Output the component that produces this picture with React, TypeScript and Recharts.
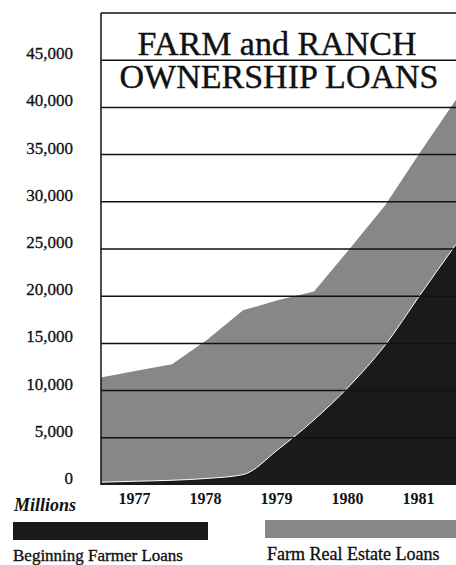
import { Area, AreaChart, ReferenceLine, XAxis, YAxis } from "recharts";

// half-year points, millions of dollars
const PERIODS = [1976.5, 1977, 1977.5, 1978, 1978.5, 1979, 1979.5, 1980, 1980.5, 1981, 1981.5];
const BEGINNING_FARMER = [300, 400, 500, 700, 1100, 3800, 6900, 10500, 14800, 20200, 25500];
const FARM_REAL_ESTATE = [11400, 12100, 12800, 15400, 18500, 19600, 20500, 25000, 29600, 35300, 40800];

const YEAR_TICKS = [1977, 1978, 1979, 1980, 1981];
const VALUE_TICKS = [0, 5000, 10000, 15000, 20000, 25000, 30000, 35000, 40000, 45000];
const RULES = [5000, 10000, 15000, 20000, 25000, 30000, 35000, 40000, 45000, 50000];

const SERIES = [
  { key: "beginning", name: "Beginning Farmer Loans", color: "#1a1a1a" },
  { key: "realEstate", name: "Farm Real Estate Loans", color: "#878787" },
];

const data = PERIODS.map((p, i) => ({
  period: p,
  beginning: BEGINNING_FARMER[i],
  realEstate: FARM_REAL_ESTATE[i],
}));

const SERIF = "'Liberation Serif', 'Times New Roman', serif";
const INK = "#111";

function ValueTick({ x, y, payload }: any) {
  return (
    <text x={x} y={y - 1} textAnchor="end" fontFamily={SERIF} fontSize={17} fill={INK} stroke={INK} strokeWidth={0.3}>
      {payload.value.toLocaleString("en-US")}
    </text>
  );
}

function YearTick({ x, y, payload }: any) {
  return (
    <text x={x - 2} y={y + 19} textAnchor="middle" fontFamily={SERIF} fontSize={16} fontWeight="bold" fill={INK}>
      {payload.value}
    </text>
  );
}

function Legend() {
  const [beginning, realEstate] = SERIES;
  return (
    <div style={{ position: "absolute", left: 0, top: 0, width: 456, height: 565, pointerEvents: "none" }}>
      <div style={{ position: "absolute", left: 13, top: 522, width: 195, height: 18, background: beginning.color }} />
      <div style={{ position: "absolute", left: 265, top: 520, width: 200, height: 18, background: realEstate.color }} />
      <svg width={456} height={565} style={{ position: "absolute", left: 0, top: 0 }}>
        <text x={13} y={561} fontFamily={SERIF} fontSize={17} fill={INK} stroke={INK} strokeWidth={0.35}>
          {beginning.name}
        </text>
        <text x={267} y={560} fontFamily={SERIF} fontSize={18} fill={INK} stroke={INK} strokeWidth={0.35}>
          {realEstate.name}
        </text>
      </svg>
    </div>
  );
}

function Title() {
  return (
    <svg width={456} height={100} style={{ position: "absolute", left: 0, top: 0, pointerEvents: "none" }}>
      <text x={277} y={55} textAnchor="middle" fontFamily={SERIF} fontSize={34} fill={INK} stroke={INK} strokeWidth={0.4}>
        FARM and RANCH
      </text>
      <text x={279} y={88} textAnchor="middle" fontFamily={SERIF} fontSize={34} fill={INK} stroke={INK} strokeWidth={0.4}>
        OWNERSHIP LOANS
      </text>
    </svg>
  );
}

export default function App() {
  return (
    <div
      style={{
        position: "absolute",
        left: 0,
        top: 0,
        width: 456,
        height: 565,
        overflow: "hidden",
        background: "#fff",
      }}
    >
      <AreaChart width={456} height={520} data={data} margin={{ top: 13, right: 0, left: 0, bottom: 5 }}>
        <XAxis
          dataKey="period"
          type="number"
          domain={[1976.5, 1981.5]}
          ticks={YEAR_TICKS}
          axisLine={false}
          tickLine={false}
          tickSize={0}
          tickMargin={0}
          height={30}
          tick={<YearTick />}
          label={{
            value: "Millions",
            position: "left",
            offset: 25,
            dy: 5,
            style: { fontFamily: SERIF, fontSize: 18, fontStyle: "italic", fontWeight: "bold", fill: INK },
          }}
        />
        <YAxis
          domain={[0, 50000]}
          ticks={VALUE_TICKS}
          width={101}
          axisLine={{ stroke: INK, strokeWidth: 1.5 }}
          tickLine={false}
          tickSize={0}
          tickMargin={28}
          tick={<ValueTick />}
        />
        <Area
          type="linear"
          dataKey="realEstate"
          name={SERIES[1].name}
          stroke="none"
          fill={SERIES[1].color}
          fillOpacity={1}
          isAnimationActive={false}
        />
        <Area
          type="monotone"
          dataKey="beginning"
          name={SERIES[0].name}
          stroke="#fff"
          strokeWidth={1}
          fill={SERIES[0].color}
          fillOpacity={1}
          isAnimationActive={false}
        />
        {RULES.map((v) => (
          <ReferenceLine key={v} y={v} stroke={INK} strokeWidth={1.5} />
        ))}
      </AreaChart>
      <Title />
      <Legend />
    </div>
  );
}
